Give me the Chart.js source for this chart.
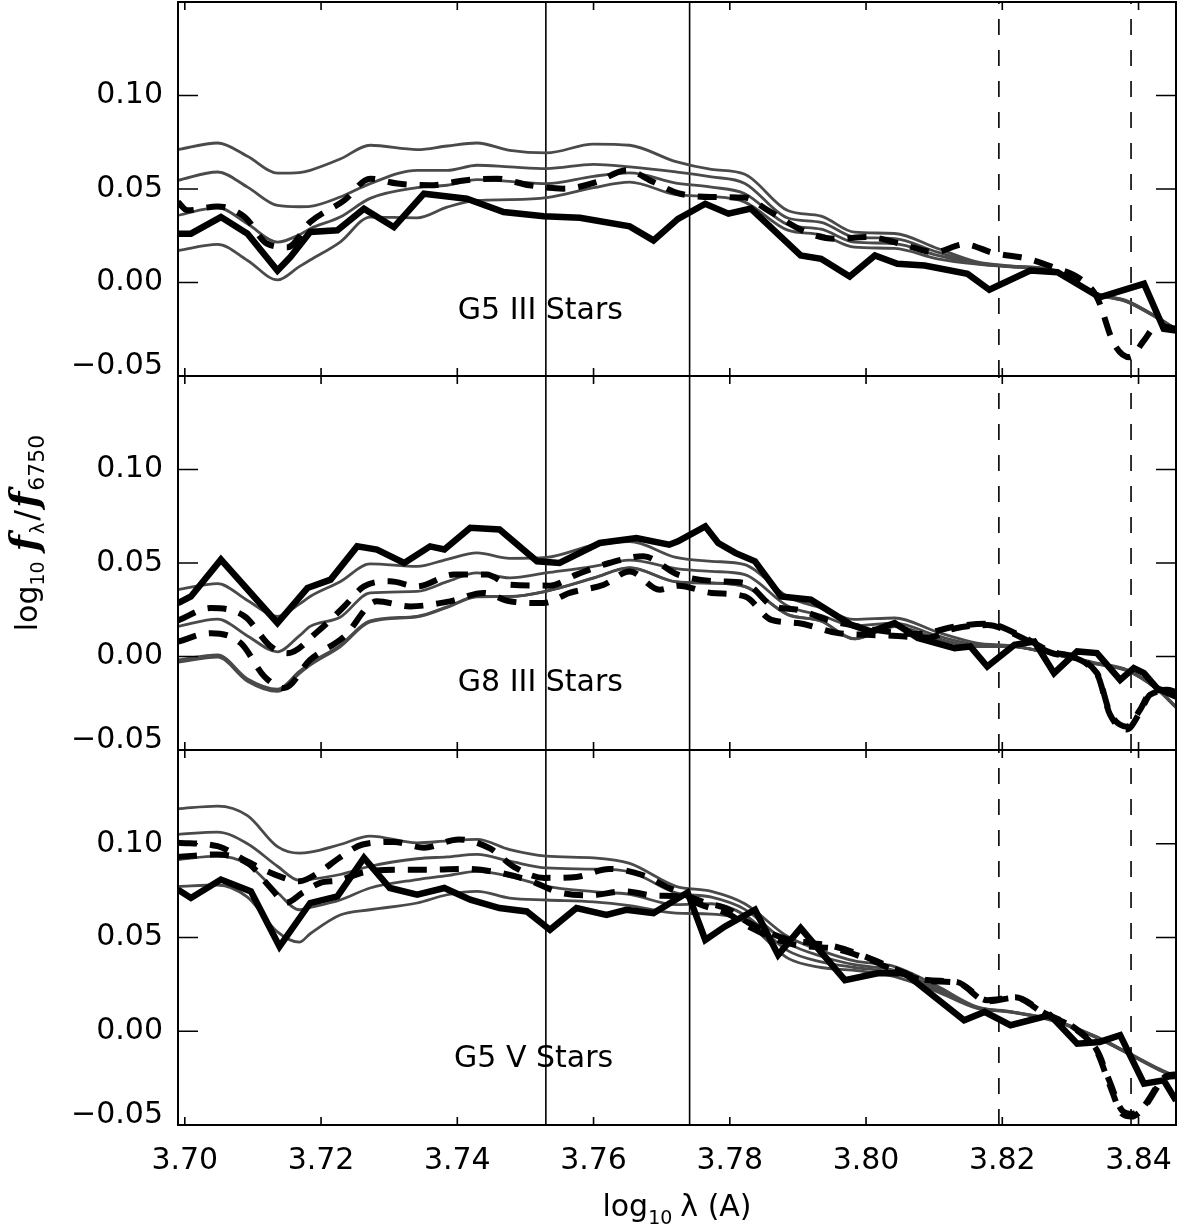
<!DOCTYPE html>
<html><head><meta charset="utf-8">
<script src="https://cdn.jsdelivr.net/npm/chart.js@4.4.0/dist/chart.umd.min.js"></script>
<style>
html,body{margin:0;padding:0;background:#fff;}
#wrap{position:relative;width:1186px;height:1230px;}
.pane{position:absolute;left:0;top:0;width:1186px;height:1230px;}
</style></head><body>
<div id="wrap">
<div class="pane"><canvas id="c1"></canvas></div>
<div class="pane"><canvas id="c2"></canvas></div>
<div class="pane"><canvas id="c3"></canvas></div>
</div>
<script>
// ---------------- DATA ----------------
const X_MIN = 3.699, X_MAX = 3.8455;
const Y_MIN = -0.05, Y_MAX = 0.15;
const X_TICKS = [3.70, 3.72, 3.74, 3.76, 3.78, 3.80, 3.82, 3.84];
const Y_TICKS = [-0.05, 0.00, 0.05, 0.10];
const V_SOLID = [3.7530, 3.7741];
const V_DASHED = [3.8195, 3.8389];
const PANEL_LABELS = ['G5 III Stars', 'G8 III Stars', 'G5 V Stars'];

const X_GRID = [3.6990, 3.7048, 3.7092, 3.7136, 3.7168, 3.7184, 3.7228, 3.7272, 3.7341, 3.7385, 3.7429, 3.7477, 3.7531, 3.7600, 3.7653, 3.7721, 3.7773, 3.7822, 3.7885, 3.7934, 3.7983, 3.8042, 3.8105, 3.8163, 3.8212, 3.8276, 3.8339, 3.8383, 3.8427, 3.8455];

// G5 III
const P1_GRAY_1 = [.0711, .0746, .0675, .0585, .0588, .0600, .0660, .0734, .0711, .0730, .0746, .0707, .0693, .0740, .0734, .0646, .0605, .0579, .0385, .0355, .0269, .0262, .0182, .0110, .0089, .0066, -.0058, -.0098, -.0184, -.0248];
const P1_GRAY_2 = [.0546, .0591, .0510, .0412, .0405, .0407, .0457, .0529, .0600, .0600, .0627, .0618, .0609, .0632, .0618, .0591, .0565, .0530, .0345, .0322, .0243, .0235, .0162, .0106, .0087, .0064, -.0060, -.0100, -.0186, -.0250];
const P1_GRAY_3 = [.0359, .0400, .0314, .0216, .0255, .0288, .0350, .0450, .0507, .0520, .0550, .0541, .0529, .0568, .0586, .0532, .0510, .0475, .0310, .0285, .0216, .0208, .0145, .0101, .0085, .0062, -.0062, -.0102, -.0188, -.0252];
const P1_GRAY_4 = [.0171, .0204, .0118, .0014, .0085, .0120, .0216, .0350, .0346, .0403, .0439, .0443, .0454, .0507, .0537, .0470, .0460, .0430, .0280, .0255, .0189, .0182, .0127, .0098, .0083, .0060, -.0064, -.0104, -.0190, -.0254];
const P1_BLACK_X = [3.6990, 3.7009, 3.7053, 3.7092, 3.7136, 3.7155, 3.7184, 3.7224, 3.7263, 3.7307, 3.7351, 3.7414, 3.7468, 3.7527, 3.7580, 3.7653, 3.7688, 3.7724, 3.7764, 3.7798, 3.7831, 3.7904, 3.7934, 3.7976, 3.8013, 3.8046, 3.8086, 3.8149, 3.8181, 3.8241, 3.8281, 3.8343, 3.8408, 3.8437, 3.8455];
const P1_BLACK_Y = [.0261, .0261, .0350, .0261, .0064, .0136, .0270, .0279, .0395, .0296, .0475, .0448, .0377, .0354, .0346, .0300, .0225, .0340, .0421, .0368, .0395, .0145, .0127, .0032, .0145, .0100, .0091, .0046, -.0039, .0064, .0055, -.0079, -.0007, -.0248, -.0257];
const P1_DASH_X = [3.6990, 3.7004, 3.7048, 3.7088, 3.7121, 3.7151, 3.7184, 3.7234, 3.7272, 3.7312, 3.7360, 3.7410, 3.7458, 3.7506, 3.7556, 3.7604, 3.7648, 3.7688, 3.7724, 3.7773, 3.7822, 3.7856, 3.7910, 3.7954, 3.8002, 3.8051, 3.8101, 3.8144, 3.8188, 3.8237, 3.8276, 3.8314, 3.8339, 3.8364, 3.8387, 3.8408, 3.8427, 3.8455];
const P1_DASH_Y = [.0430, .0386, .0407, .0350, .0207, .0189, .0323, .0439, .0555, .0529, .0520, .0546, .0555, .0520, .0502, .0537, .0600, .0537, .0478, .0457, .0454, .0386, .0273, .0234, .0243, .0207, .0162, .0204, .0157, .0127, .0080, .0020, -.0079, -.0328, -.0400, -.0310, -.0230, -.0248];

// G8 III
const P2_GRAY_1 = [.0357, .0390, .0300, .0214, .0280, .0321, .0400, .0495, .0482, .0520, .0554, .0525, .0530, .0595, .0615, .0530, .0509, .0491, .0320, .0260, .0198, .0206, .0130, .0072, .0058, .0015, -.0036, -.0071, -.0170, -.0268];
const P2_GRAY_2 = [.0161, .0200, .0110, .0025, .0110, .0161, .0210, .0340, .0348, .0400, .0447, .0420, .0447, .0482, .0515, .0470, .0455, .0438, .0270, .0220, .0165, .0179, .0110, .0063, .0056, .0013, -.0038, -.0073, -.0172, -.0270];
const P2_GRAY_3 = [-.0018, .0009, -.0120, -.0175, -.0080, -.0036, .0060, .0190, .0215, .0265, .0321, .0321, .0350, .0420, .0475, .0400, .0393, .0375, .0225, .0190, .0095, .0161, .0095, .0054, .0054, .0011, -.0040, -.0075, -.0174, -.0272];
const P2_GRAY_4 = [-.0030, -.0003, -.0132, -.0187, -.0092, -.0046, .0052, .0185, .0212, .0263, .0319, .0320, .0349, .0419, .0474, .0399, .0392, .0374, .0224, .0189, .0094, .0160, .0094, .0053, .0053, .0010, -.0041, -.0076, -.0175, -.0273];
const P2_BLACK_X = [3.6990, 3.7009, 3.7053, 3.7136, 3.7180, 3.7214, 3.7253, 3.7282, 3.7322, 3.7360, 3.7381, 3.7419, 3.7462, 3.7517, 3.7550, 3.7609, 3.7663, 3.7711, 3.7724, 3.7764, 3.7783, 3.7808, 3.7837, 3.7875, 3.7919, 3.7978, 3.8007, 3.8042, 3.8076, 3.8130, 3.8153, 3.8178, 3.8218, 3.8247, 3.8276, 3.8310, 3.8339, 3.8373, 3.8393, 3.8408, 3.8427, 3.8455];
const P2_BLACK_Y = [.0286, .0321, .0518, .0179, .0366, .0411, .0589, .0572, .0500, .0589, .0572, .0688, .0679, .0509, .0500, .0607, .0634, .0598, .0616, .0696, .0607, .0554, .0509, .0321, .0304, .0170, .0134, .0179, .0099, .0045, .0054, -.0054, .0063, .0080, -.0089, .0027, .0018, -.0125, -.0062, -.0089, -.0169, -.0214];
const P2_DASH1_X = [3.6990, 3.7038, 3.7088, 3.7126, 3.7151, 3.7195, 3.7234, 3.7263, 3.7301, 3.7341, 3.7395, 3.7443, 3.7477, 3.7536, 3.7575, 3.7623, 3.7673, 3.7724, 3.7783, 3.7822, 3.7863, 3.7900, 3.7944, 3.7983, 3.8017, 3.8076, 3.8130, 3.8178, 3.8222, 3.8270, 3.8339, 3.8358, 3.8383, 3.8402, 3.8417, 3.8442, 3.8455];
const P2_DASH1_Y = [.0193, .0259, .0214, .0054, .0018, .0134, .0268, .0375, .0402, .0375, .0438, .0438, .0384, .0379, .0438, .0500, .0536, .0438, .0402, .0393, .0270, .0250, .0195, .0165, .0140, .0120, .0160, .0175, .0120, .0030, -.0089, -.0300, -.0375, -.0286, -.0196, -.0178, -.0190];
const P2_DASH2_X = [3.6990, 3.7038, 3.7082, 3.7117, 3.7146, 3.7184, 3.7234, 3.7282, 3.7331, 3.7389, 3.7439, 3.7477, 3.7527, 3.7565, 3.7615, 3.7653, 3.7697, 3.7724, 3.7773, 3.7822, 3.7861, 3.7900, 3.7959, 3.8002, 3.8046, 3.8090, 3.8130, 3.8178, 3.8222, 3.8270, 3.8339, 3.8358, 3.8383, 3.8402, 3.8417, 3.8442, 3.8455];
const P2_DASH2_Y = [.0080, .0125, .0072, -.0107, -.0169, -.0018, .0107, .0295, .0268, .0295, .0340, .0295, .0286, .0340, .0384, .0455, .0357, .0379, .0340, .0321, .0196, .0179, .0125, .0116, .0110, .0100, .0150, .0168, .0112, .0022, -.0095, -.0310, -.0390, -.0300, -.0205, -.0185, -.0195];

// G5 V
const P3_GRAY_1 = [.1187, .1201, .1150, .0985, .0950, .0955, .0996, .1041, .1005, .1015, .1023, .0969, .0934, .0925, .0895, .0773, .0746, .0680, .0505, .0430, .0375, .0345, .0240, .0130, .0105, .0060, -.0030, -.0111, -.0195, -.0240];
const P3_GRAY_2 = [.1050, .1062, .1000, .0880, .0805, .0810, .0836, .0880, .0920, .0930, .0943, .0907, .0871, .0865, .0850, .0738, .0715, .0650, .0470, .0400, .0355, .0325, .0228, .0128, .0104, .0058, -.0032, -.0113, -.0197, -.0242];
const P3_GRAY_3 = [.0916, .0934, .0890, .0740, .0648, .0660, .0700, .0764, .0809, .0830, .0853, .0826, .0773, .0745, .0730, .0675, .0680, .0620, .0430, .0370, .0340, .0310, .0220, .0125, .0103, .0056, -.0034, -.0115, -.0199, -.0244];
const P3_GRAY_4 = [.0773, .0780, .0715, .0530, .0475, .0520, .0620, .0648, .0684, .0728, .0746, .0710, .0700, .0690, .0670, .0630, .0625, .0585, .0390, .0340, .0325, .0291, .0210, .0122, .0102, .0054, -.0036, -.0117, -.0201, -.0246];
const P3_BLACK_X = [3.6990, 3.7009, 3.7053, 3.7097, 3.7139, 3.7184, 3.7224, 3.7263, 3.7301, 3.7341, 3.7381, 3.7419, 3.7462, 3.7502, 3.7536, 3.7575, 3.7619, 3.7648, 3.7688, 3.7738, 3.7764, 3.7793, 3.7837, 3.7871, 3.7904, 3.7969, 3.8017, 3.8057, 3.8144, 3.8174, 3.8212, 3.8270, 3.8310, 3.8343, 3.8373, 3.8408, 3.8437, 3.8455];
const P3_BLACK_Y = [.0755, .0711, .0809, .0746, .0452, .0684, .0719, .0925, .0764, .0728, .0764, .0702, .0657, .0639, .0541, .0657, .0621, .0648, .0630, .0740, .0487, .0559, .0648, .0407, .0550, .0273, .0309, .0309, .0059, .0103, .0032, .0086, -.0066, -.0057, -.0021, -.0280, -.0262, -.0370];
const P3_DASH1_X = [3.6990, 3.7048, 3.7091, 3.7136, 3.7168, 3.7198, 3.7227, 3.7261, 3.7307, 3.7351, 3.7402, 3.7448, 3.7483, 3.7528, 3.7575, 3.7623, 3.7673, 3.7711, 3.7761, 3.7798, 3.7827, 3.7885, 3.7922, 3.7954, 3.7999, 3.8046, 3.8090, 3.8134, 3.8178, 3.8219, 3.8263, 3.8307, 3.8339, 3.8357, 3.8376, 3.8390, 3.8405, 3.8442, 3.8455];
const P3_DASH1_Y = [.1005, .0987, .0907, .0830, .0800, .0850, .0925, .0996, .1010, .0979, .1023, .0975, .0877, .0818, .0823, .0866, .0832, .0764, .0690, .0650, .0580, .0490, .0470, .0452, .0398, .0327, .0273, .0262, .0166, .0182, .0095, .0016, -.0102, -.0262, -.0423, -.0440, -.0410, -.0236, -.0230];
const P3_DASH2_X = [3.6990, 3.7048, 3.7095, 3.7124, 3.7149, 3.7173, 3.7198, 3.7227, 3.7263, 3.7315, 3.7363, 3.7410, 3.7455, 3.7505, 3.7549, 3.7594, 3.7644, 3.7692, 3.7724, 3.7761, 3.7798, 3.7827, 3.7885, 3.7922, 3.7954, 3.7999, 3.8046, 3.8090, 3.8134, 3.8178, 3.8219, 3.8263, 3.8307, 3.8339, 3.8357, 3.8376, 3.8390, 3.8405, 3.8442, 3.8455];
const P3_DASH2_Y = [.0930, .0943, .0890, .0773, .0686, .0739, .0790, .0805, .0848, .0862, .0862, .0866, .0850, .0805, .0741, .0725, .0746, .0723, .0720, .0670, .0625, .0560, .0470, .0450, .0440, .0390, .0320, .0268, .0258, .0160, .0178, .0090, .0012, -.0110, -.0280, -.0440, -.0455, -.0420, -.0245, -.0240];

// ---------------- LAYOUT / STYLE ----------------
const FONT = '"DejaVu Sans", sans-serif';
const GRAY = '#4a4a4a';
const PANELS = [
  {id:'c1', gray:[P1_GRAY_1,P1_GRAY_2,P1_GRAY_3,P1_GRAY_4], black:[P1_BLACK_X,P1_BLACK_Y],
   dashes:[[P1_DASH_X,P1_DASH_Y]], label:PANEL_LABELS[0], anchor:{x:3.7522,y:-0.0155}, pad:{top:2,bottom:854}, showX:false},
  {id:'c2', gray:[P2_GRAY_1,P2_GRAY_2,P2_GRAY_3,P2_GRAY_4], black:[P2_BLACK_X,P2_BLACK_Y],
   dashes:[[P2_DASH1_X,P2_DASH1_Y],[P2_DASH2_X,P2_DASH2_Y]], label:PANEL_LABELS[1], anchor:{x:3.7522,y:-0.0141}, pad:{top:376,bottom:480}, showX:false},
  {id:'c3', gray:[P3_GRAY_1,P3_GRAY_2,P3_GRAY_3,P3_GRAY_4], black:[P3_BLACK_X,P3_BLACK_Y],
   dashes:[[P3_DASH1_X,P3_DASH1_Y],[P3_DASH2_X,P3_DASH2_Y]], label:PANEL_LABELS[2], anchor:{x:3.7512,y:-0.0150}, pad:{top:750,bottom:0}, showX:true}
];

function pts(xs, ys){ return xs.map((x,i)=>({x:x, y:ys[i]})); }

const framePlugin = {
  id:'frame',
  afterDatasetsDraw(chart, args, opts){
    const {ctx, chartArea:a} = chart;
    const xs = chart.scales.x, ys = chart.scales.y;
    ctx.save();
    ctx.strokeStyle = '#000';
    ctx.lineWidth = 2;
    ctx.strokeRect(a.left, a.top, a.right-a.left, a.bottom-a.top);
    ctx.lineWidth = 1.6;
    ctx.beginPath();
    Y_TICKS.forEach(v=>{
      const py = ys.getPixelForValue(v);
      ctx.moveTo(a.left, py); ctx.lineTo(a.left+20, py);
      ctx.moveTo(a.right, py); ctx.lineTo(a.right-20, py);
    });
    X_TICKS.forEach(v=>{
      const px = xs.getPixelForValue(v);
      ctx.moveTo(px, a.bottom); ctx.lineTo(px, a.bottom-8);
      ctx.moveTo(px, a.top); ctx.lineTo(px, a.top+8);
    });
    ctx.stroke();
    ctx.fillStyle = '#000';
    ctx.font = '30px ' + FONT;
    ctx.textAlign = 'center';
    ctx.textBaseline = 'middle';
    ctx.fillText(opts.label, xs.getPixelForValue(opts.ax), ys.getPixelForValue(opts.ay));
    ctx.restore();
  }
};

function drawRich(ctx, parts){
  let total = 0;
  parts.forEach(p=>{ ctx.font = p.f; p.w = ctx.measureText(p.t).width; total += p.w + (p.gap||0); });
  let x = -total/2;
  parts.forEach(p=>{ ctx.font = p.f; ctx.fillText(p.t, x, p.dy||0); x += p.w + (p.gap||0); });
}

const titlePlugin = {
  id:'titles',
  afterDraw(chart){
    const {ctx, chartArea:a} = chart;
    ctx.save();
    ctx.fillStyle = '#000';
    ctx.textAlign = 'left';
    ctx.textBaseline = 'alphabetic';
    ctx.save();
    ctx.translate((a.left+a.right)/2, a.bottom + 91);
    drawRich(ctx, [
      {t:'log', f:'30px '+FONT},
      {t:'10', f:'19px '+FONT, dy:8, gap:8},
      {t:'λ (A)', f:'30px '+FONT}
    ]);
    ctx.restore();
    ctx.save();
    ctx.translate(37, 533);
    ctx.rotate(-Math.PI/2);
    drawRich(ctx, [
      {t:'log', f:'30px '+FONT},
      {t:'10', f:'19px '+FONT, dy:7, gap:10},
      {t:'f', f:'italic bold 38px "DejaVu Serif", serif', gap:1},
      {t:'λ', f:'19px '+FONT, dy:7, gap:2},
      {t:'/', f:'32px '+FONT, gap:2},
      {t:'f', f:'italic bold 38px "DejaVu Serif", serif', gap:1},
      {t:'6750', f:'22px '+FONT, dy:7}
    ]);
    ctx.restore();
    ctx.restore();
  }
};

function yLabel(v){
  const s = v < -1e-9 ? '−' + Math.abs(v).toFixed(2) : Math.abs(v).toFixed(2);
  // bottom label sits a little above the panel edge, as in the original
  return v < -0.04 ? [s, ''] : s;
}

PANELS.forEach((p, idx)=>{
  const datasets = [];
  datasets.push({data:pts(p.black[0], p.black[1]), borderColor:'#000', borderWidth:6.5, tension:0});
  p.dashes.forEach(d=>{
    datasets.push({data:pts(d[0], d[1]), borderColor:'#000', borderWidth:6, borderDash:[19,13],
      tension:0.4, cubicInterpolationMode:'monotone'});
  });
  p.gray.forEach(g=>{
    datasets.push({data:pts(X_GRID, g), borderColor:GRAY, borderWidth:2.8,
      tension:0.4, cubicInterpolationMode:'monotone'});
  });
  V_SOLID.forEach(v=>{
    datasets.push({data:[{x:v,y:Y_MIN},{x:v,y:Y_MAX}], borderColor:'#000', borderWidth:1.6, tension:0});
  });
  V_DASHED.forEach(v=>{
    datasets.push({data:[{x:v,y:Y_MIN},{x:v,y:Y_MAX}], borderColor:'#000', borderWidth:1.6, borderDash:[16,15], tension:0});
  });
  datasets.forEach(d=>{ d.showLine = true; d.pointRadius = 0; d.pointHoverRadius = 0; d.fill = false; });

  const plugins = [framePlugin];
  if (idx === 2) plugins.push(titlePlugin);

  new Chart(document.getElementById(p.id), {
    type:'scatter',
    data:{datasets:datasets},
    plugins:plugins,
    options:{
      responsive:true, maintainAspectRatio:false, animation:false, events:[],
      layout:{padding:{left:0, right:10, top:p.pad.top, bottom:p.pad.bottom}},
      plugins:{legend:{display:false}, tooltip:{enabled:false},
        frame:{label:p.label, ax:p.anchor.x, ay:p.anchor.y}},
      scales:{
        x:{type:'linear', min:X_MIN, max:X_MAX, display:p.showX,
          afterBuildTicks:s=>{ s.ticks = X_TICKS.map(v=>({value:v})); },
          afterFit:s=>{ s.height = p.showX ? 105 : 0; s.paddingLeft = 0; s.paddingRight = 0; },
          grid:{display:false, drawTicks:false}, border:{display:false},
          ticks:{autoSkip:false, maxRotation:0, padding:18, color:'#000', font:{family:FONT, size:30},
            callback:v=>v.toFixed(2)}},
        y:{type:'linear', min:Y_MIN, max:Y_MAX,
          afterBuildTicks:s=>{ s.ticks = Y_TICKS.map(v=>({value:v})); },
          afterFit:s=>{ s.width = 178; s.paddingTop = 0; s.paddingBottom = 0; },
          grid:{display:false, drawTicks:false}, border:{display:false},
          ticks:{autoSkip:false, padding:15, color:'#000',
            font:(c)=>({family:FONT, size:30, lineHeight:(c.tick && c.tick.value < -0.04) ? 0.67 : 1.2}),
            callback:yLabel}}
      }
    }
  });
});
</script>
</body></html>
